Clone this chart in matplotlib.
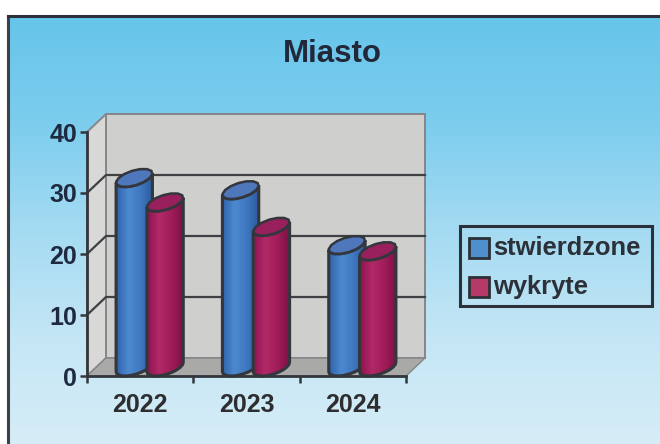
import numpy as np
import matplotlib
matplotlib.use("Agg")
import matplotlib.pyplot as plt
from matplotlib.colors import LinearSegmentedColormap
from matplotlib.patches import Polygon, Rectangle

years = ["2022", "2023", "2024"]
stwierdzone = [31, 29, 20]
wykryte = [27, 23, 19]
y_ticks = [0, 10, 20, 30, 40]

plt.rcParams["font.family"] = ["Liberation Sans", "DejaVu Sans"]
plt.rcParams["font.weight"] = "bold"

W, H = 660, 444
fig = plt.figure(figsize=(W / 100, H / 100), dpi=100, facecolor="white")

# sky gradient behind everything, frame only shows on top and left
bg = fig.add_axes([8 / W, 0, 1 - 8 / W, 1 - 16 / H])
bg_cmap = LinearSegmentedColormap.from_list(
    "bg", ["#d6edf7", "#c4e6f5", "#a4dbf2", "#7ccdee", "#66c5ea"]
)
bg.imshow(np.linspace(1, 0, 256).reshape(-1, 1), aspect="auto", cmap=bg_cmap)
bg.axis("off")
fig.add_artist(plt.Line2D([8 / W, 8 / W], [0, 1 - 16 / H], color="#3c4048", lw=2.2))
fig.add_artist(plt.Line2D([8 / W, 1], [1 - 16 / H, 1 - 16 / H], color="#2c3038", lw=2.2))

ax = fig.add_axes([87 / W, (H - 376) / H, 319 / W, 244 / H])
ax.set_xlim(0, 3)
ax.set_ylim(0, 40)
ax.patch.set_alpha(0)

# depth of the fake 3d box in data units
dx = 19 / (319 / 3)
dy = 18 / (244 / 40)
edge = "#33363c"

# walls and floor
ax.add_patch(Polygon([(dx, dy), (3 + dx, dy), (3 + dx, 40 + dy), (dx, 40 + dy)],
                     fc="#cfcfcd", ec="#85858a", lw=1.4, clip_on=False, zorder=1))
ax.add_patch(Polygon([(0, 0), (dx, dy), (dx, 40 + dy), (0, 40)],
                     fc="#d8d8d6", ec="#85858a", lw=1.4, clip_on=False, zorder=1))
ax.add_patch(Polygon([(0, 0), (3, 0), (3 + dx, dy), (dx, dy)],
                     fc="#a9a9a7", ec="#85858a", lw=1.0, clip_on=False, zorder=1))

for t in y_ticks[1:-1]:
    ax.plot([0, dx, 3 + dx], [t, t + dy, t + dy], color="#3e4044", lw=1.6,
            clip_on=False, zorder=2)

blue_cmap = LinearSegmentedColormap.from_list("b", ["#2f62a8", "#4c8ad0", "#3f78c0", "#2c5a9e"])
red_cmap = LinearSegmentedColormap.from_list("r", ["#8c1450", "#b22a68", "#a01c58", "#7c1046"])
z = 3
# scale used to find the widest point of the sheared ellipse
x_px = 319 / 3


def cylinder(cx, value, width, cmap, top_color):
    global z
    a = width / 2
    b = dx / 2
    t0 = np.arctan2(b, a)
    # front half of the rim, left extreme to right extreme
    front = np.linspace(t0 + np.pi, t0 + 2 * np.pi, 12)
    fx = cx + dx / 2 + a * np.cos(front) + b * np.sin(front)
    fy = dy / 2 + dy / 2 * np.sin(front)
    outline = np.vstack([np.column_stack([fx, fy]),
                         np.column_stack([fx[::-1], fy[::-1] + value])])
    base = Polygon(outline, fc="white", ec="none", clip_on=False, zorder=z)
    ax.add_patch(base)
    img = ax.imshow(np.linspace(0, 1, 64).reshape(1, -1), cmap=cmap, aspect="auto",
                    extent=(fx.min(), fx.max(), 0, value + dy), zorder=z + 1)
    img.set_clip_path(base)
    ax.add_patch(Polygon(outline, fc="none", ec=edge, lw=2.2, clip_on=False, zorder=z + 2))
    # top is a coarse polygon, the reference looks faceted there
    rim = np.linspace(0, 2 * np.pi, 15)
    tx = cx + dx / 2 + a * np.cos(rim) + b * np.sin(rim)
    ty = dy / 2 + value + dy / 2 * np.sin(rim)
    ax.add_patch(Polygon(np.column_stack([tx, ty]), fc=top_color, ec=edge, lw=1.8,
                         clip_on=False, zorder=z + 3))
    z += 4


bar_w = 31 / x_px
for i in range(len(years)):
    center = i + 0.5
    cylinder(center - 0.145, stwierdzone[i], bar_w, blue_cmap, "#4f78bc")
    cylinder(center + 0.145, wykryte[i], bar_w, red_cmap, "#98205c")
ax.set_xlim(0, 3)
ax.set_ylim(0, 40)

for s in ["top", "right"]:
    ax.spines[s].set_visible(False)
for s in ["left", "bottom"]:
    ax.spines[s].set_color(edge)
    ax.spines[s].set_linewidth(2)
    ax.spines[s].set_zorder(100)

ax.set_xticks([0, 1, 2, 3], minor=True)
ax.set_xticks([0.5, 1.5, 2.5], years)
ax.tick_params(axis="x", which="major", length=0, pad=12, labelsize=18, labelcolor="#2e2e30")
ax.tick_params(axis="x", which="minor", length=5, width=1.8, color=edge, direction="out")
ax.set_yticks(y_ticks)
ax.tick_params(axis="y", length=5, width=1.8, color=edge, pad=2, labelsize=18, labelcolor="#1f2a40")

fig.text(332 / W, 1 - 54 / H, "Miasto", ha="center", va="center", fontsize=22.5,
         color="#22283a")

# legend box built by hand, keys are square with thick outline
fig.patches.append(Rectangle((460 / W, 1 - 306 / H), 192 / W, 80 / H, transform=fig.transFigure,
                             fc="none", ec="#2c3038", lw=2.2))
for label, key_c, y in [("stwierdzone", "#4f8fcc", 248), ("wykryte", "#b53a68", 287)]:
    fig.patches.append(Rectangle((469 / W, 1 - (y + 10) / H), 20 / W, 20 / H, transform=fig.transFigure,
                                 fc=key_c, ec="#2c3038", lw=2))
    fig.text(493 / W, 1 - y / H, label, ha="left", va="center", fontsize=18.4, color="#2c3038")

fig.savefig("out.png", dpi=100)
